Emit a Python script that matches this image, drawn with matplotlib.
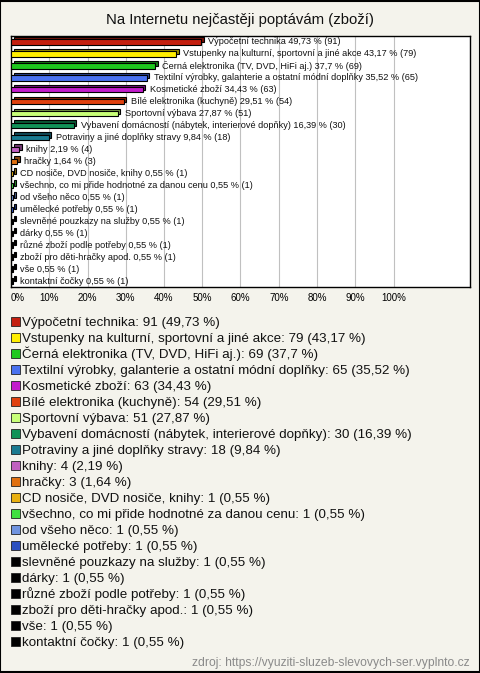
import matplotlib
matplotlib.use("Agg")
import matplotlib.pyplot as plt
import matplotlib.transforms as mtransforms
from matplotlib.patches import Rectangle
import numpy as np

plt.rcParams['font.family'] = ['Liberation Sans', 'DejaVu Sans']

title = "Na Internetu nejčastěji poptávám (zboží)"
categories = [
    "Výpočetní technika",
    "Vstupenky na kulturní, sportovní a jiné akce",
    "Černá elektronika (TV, DVD, HiFi aj.)",
    "Textilní výrobky, galanterie a ostatní módní doplňky",
    "Kosmetické zboží",
    "Bílé elektronika (kuchyně)",
    "Sportovní výbava",
    "Vybavení domácností (nábytek, interierové dopňky)",
    "Potraviny a jiné doplňky stravy",
    "knihy",
    "hračky",
    "CD nosiče, DVD nosiče, knihy",
    "všechno, co mi přide hodnotné za danou cenu",
    "od všeho něco",
    "umělecké potřeby",
    "slevněné pouzkazy na služby",
    "dárky",
    "různé zboží podle potřeby",
    "zboží pro děti-hračky apod.",
    "vše",
    "kontaktní čočky",
]
counts = [91, 79, 69, 65, 63, 54, 51, 30, 18, 4, 3, 1, 1, 1, 1, 1, 1, 1, 1, 1, 1]
percents = [49.73, 43.17, 37.7, 35.52, 34.43, 29.51, 27.87, 16.39, 9.84, 2.19, 1.64,
            0.55, 0.55, 0.55, 0.55, 0.55, 0.55, 0.55, 0.55, 0.55, 0.55]
colors = ["#c41f0f", "#ffee00", "#1ec81e", "#4a72f0", "#c21ccc", "#e0400e",
          "#c8ff78", "#119257", "#1a7a90", "#c060c0", "#e07010", "#e8b010",
          "#40e040", "#7094e0", "#2c50c0", "#000000", "#000000", "#000000",
          "#000000", "#000000", "#000000"]
x_ticks = [0, 10, 20, 30, 40, 50, 60, 70, 80, 90, 100]
source = "zdroj: https://vyuziti-sluzeb-slevovych-ser.vyplnto.cz"

W, H = 480, 673
bg = "#f4f3ec"
fig = plt.figure(figsize=(W / 100, H / 100), dpi=100, facecolor=bg)

def fx(px):
    return px / W

def fy(py):
    return 1 - py / H

fmt = lambda v: ("%g" % v).replace(".", ",")

ax = fig.add_axes([fx(11), fy(287), fx(470) - fx(11), fy(36) - fy(287)])
ax.set_facecolor("white")
n = len(categories)
y = np.arange(n)

def darker(c, f=0.6):
    r, g, b = matplotlib.colors.to_rgb(c)
    return (r * f, g * f, b * f)

shift = mtransforms.ScaledTranslation(2.5 / 100, 2.5 / 100, fig.dpi_scale_trans)
back = ax.barh(y, percents, height=0.45, color=[darker(c) for c in colors],
               edgecolor="black", linewidth=0.8, zorder=2)
for p in back:
    p.set_transform(ax.transData + shift)
ax.barh(y, percents, height=0.45, color=colors, edgecolor="black",
        linewidth=0.8, zorder=3)

for yi, (lab, pc, ct) in enumerate(zip(categories, percents, counts)):
    ax.annotate(f"{lab} {fmt(pc)} % ({ct})", xy=(pc, yi), xytext=(5, 0),
                textcoords="offset points", va="center", ha="left",
                fontsize=6.6, color="#111111", zorder=4)

ax.set_xlim(0, 120)
ax.set_ylim(n - 0.5, -0.5)
ax.set_xticks(x_ticks)
labels = ax.set_xticklabels([f"{t}%" for t in x_ticks], fontsize=7)
labels[0].set_ha("left")
ax.tick_params(axis="x", length=0, pad=4.5)
ax.set_yticks([])
ax.grid(axis="x", color="#c0c0c0", linewidth=0.8, zorder=0)
ax.set_axisbelow(True)
for s in ax.spines.values():
    s.set_linewidth(1.0)
    s.set_color("black")

fig.text(0.5, fy(20), title, ha="center", va="center", fontsize=10.7, color="#111111")

# legend
y0, dy = 321, 16.0
for i, (cat, ct, pc, c) in enumerate(zip(categories, counts, percents, colors)):
    yy = y0 + i * dy
    fig.patches.append(Rectangle((fx(10.5), fy(yy + 4.5)), fx(9), fy(0) - fy(9),
                                 transform=fig.transFigure, facecolor=c,
                                 edgecolor="#222222", linewidth=0.6))
    fig.text(fx(22), fy(yy + 5), f"{cat}: {ct} ({fmt(pc)} %)", ha="left", va="baseline",
             fontsize=9.6, color="#111111")

fig.text(fx(470), fy(663), source, ha="right", va="center", fontsize=8.7, color="#8a8a8a")

fig.patches.append(Rectangle((0.001, 0.001), 0.998, 0.998, transform=fig.transFigure,
                             fill=False, edgecolor="black", linewidth=1.5))

fig.savefig("out.png", dpi=100, facecolor=bg)
